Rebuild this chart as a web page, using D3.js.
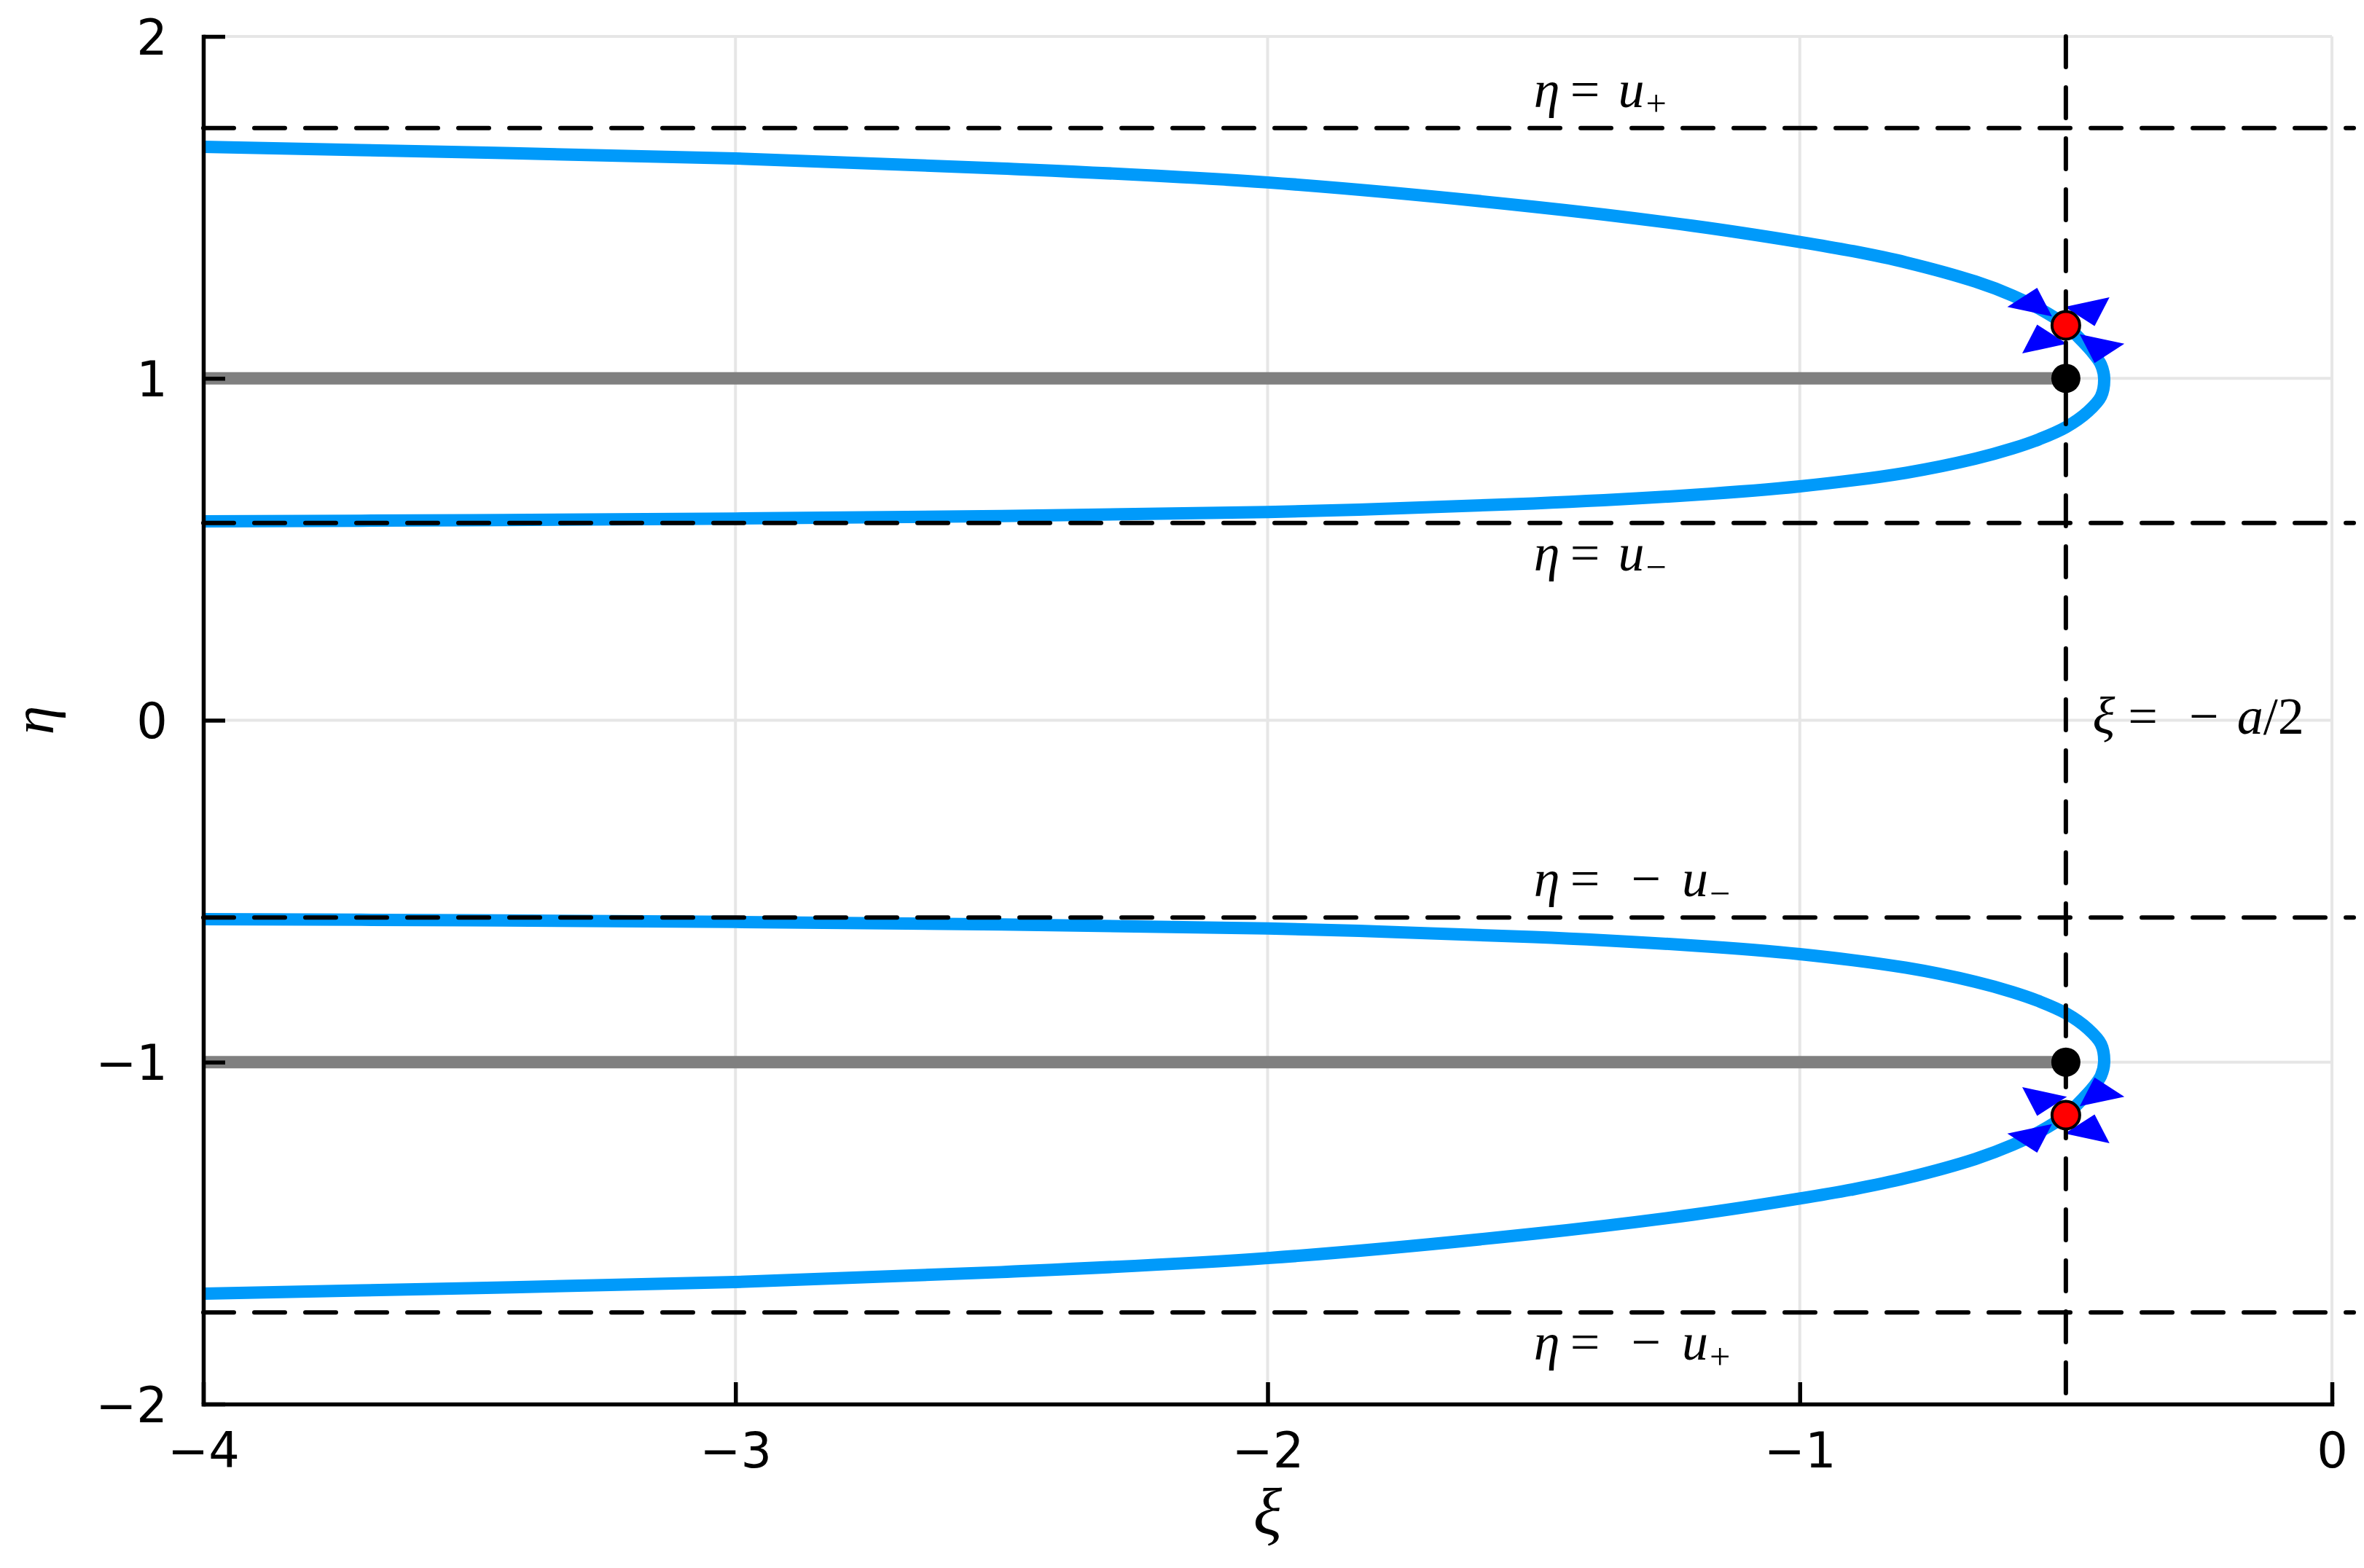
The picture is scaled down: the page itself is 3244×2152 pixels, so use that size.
<!DOCTYPE html>
<html lang="en">
<head>
<meta charset="UTF-8">
<title>Phase plane</title>
<script src="https://d3js.org/d3.v7.min.js"></script>
<style>
  body { margin: 0; background: #fff; }
  svg { display: block; }
  .axis text { font-family: "DejaVu Sans", sans-serif; font-size: 67px; fill: #000; }
  .math { font-family: "Liberation Serif", serif; fill: #000; }
</style>
</head>
<body>
<svg id="chart"></svg>
<script>
const width = 3244, height = 2152;

// upper loop: upper branch going right, round the nose, lower branch back left
const loopXi  = [-4.0, -3.5, -3.0, -2.5, -2.0, -1.5, -1.2, -1.0, -0.9, -0.8, -0.67, -0.6, -0.55, -0.5, -0.47, -0.448, -0.434, -0.428,
                 -0.434, -0.459, -0.5, -0.55, -0.6, -0.67, -0.8, -1.0, -1.2, -1.5, -2.0, -2.5, -3.0, -3.5, -4.0];
const loopEta = [1.677, 1.661, 1.643, 1.614, 1.573, 1.502, 1.446, 1.399, 1.372, 1.339, 1.283, 1.242, 1.204, 1.155, 1.11, 1.072, 1.04, 1.0,
                 0.947, 0.902, 0.857, 0.822, 0.795, 0.765, 0.724, 0.684, 0.659, 0.634, 0.609, 0.597, 0.59, 0.585, 0.582];
// lower loop (mirror image of the upper one)
const loop2Xi  = loopXi.slice();
const loop2Eta = [-1.677, -1.661, -1.643, -1.614, -1.573, -1.502, -1.446, -1.399, -1.372, -1.339, -1.283, -1.242, -1.204, -1.155, -1.11, -1.072, -1.04, -1.0,
                  -0.947, -0.902, -0.857, -0.822, -0.795, -0.765, -0.724, -0.684, -0.659, -0.634, -0.609, -0.597, -0.59, -0.585, -0.582];

// dashed reference lines
const hLineEta = [1.732, 0.577, -0.577, -1.732];
const vLineXi = [-0.5];

// grey segments eta = +-1 from the left edge to xi = -a/2
const segXiStart = [-4, -4];
const segXiEnd = [-0.5, -0.5];
const segEta = [1, -1];

// black and red points
const blackXi = [-0.5, -0.5], blackEta = [1, -1];
const redXi = [-0.5, -0.5], redEta = [1.155, -1.155];

// arrow heads round the red points: direction (in data units) and whether they point in or out
const arrowXi  = [-0.5, -0.5, -0.5, -0.5, -0.5, -0.5, -0.5, -0.5];
const arrowEta = [1.155, 1.155, 1.155, 1.155, -1.155, -1.155, -1.155, -1.155];
const arrowDx  = [-1, 1, 1, -1, 1, -1, -1, 1];
const arrowDy  = [1, -1, 1, -1, 1, -1, 1, -1];
const arrowIn  = [true, true, false, false, true, true, false, false];

// annotations: [text, kind, gap before it in em]
const noteText = [
  [["η", "i", 0], ["=", "", 0.2], ["u", "i", 0.35], ["+", "sub", 0.04]],
  [["η", "i", 0], ["=", "", 0.2], ["u", "i", 0.35], ["−", "sub", 0.04]],
  [["η", "i", 0], ["=", "", 0.2], ["−", "", 0.6], ["u", "i", 0.4], ["−", "sub", 0.04]],
  [["η", "i", 0], ["=", "", 0.2], ["−", "", 0.6], ["u", "i", 0.4], ["+", "sub", 0.04]],
  [["ξ", "i", 0], ["=", "", 0.25], ["−", "", 0.6], ["a", "i", 0.35], ["/2", "", 0]]
];
const noteXi  = [-1.5, -1.5, -1.5, -1.5, -0.45];
const noteEta = [1.832, 0.477, -0.477, -1.832, 0];

const xTicks = [-4, -3, -2, -1, 0];
const yTicks = [-2, -1, 0, 1, 2];

const x = d3.scaleLinear().domain([-4, 0]).range([279, 3200]);
const y = d3.scaleLinear().domain([-2, 2]).range([1927, 50]);

const svg = d3.select("#chart").attr("width", width).attr("height", height);

// grid
const grid = svg.append("g").attr("stroke", "#e6e6e6").attr("stroke-width", 4);
grid.selectAll(".gx").data(xTicks).enter().append("line")
  .attr("x1", d => x(d)).attr("x2", d => x(d)).attr("y1", y(-2)).attr("y2", y(2));
grid.selectAll(".gy").data(yTicks).enter().append("line")
  .attr("x1", x(-4)).attr("x2", x(0)).attr("y1", d => y(d)).attr("y2", d => y(d));

// loops
const line = d3.line().x(d => x(d[0])).y(d => y(d[1])).curve(d3.curveCatmullRom.alpha(0.5));
[[loopXi, loopEta], [loop2Xi, loop2Eta]].forEach(([xs, ys]) => {
  svg.append("path")
    .datum(d3.zip(xs, ys))
    .attr("d", line)
    .attr("fill", "none")
    .attr("stroke", "#009afa")
    .attr("stroke-width", 17);
});

// grey segments
svg.append("g").selectAll("line").data(segEta).enter().append("line")
  .attr("x1", (d, i) => x(segXiStart[i])).attr("x2", (d, i) => x(segXiEnd[i]))
  .attr("y1", d => y(d)).attr("y2", d => y(d))
  .attr("stroke", "#808080").attr("stroke-width", 17);

// arrow heads, built in data units then mapped through the scales
const headNear = 0.026, headFar = 0.082, headHalf = 0.028;
svg.append("g").selectAll("path").data(arrowXi).enter().append("path")
  .attr("d", (d, i) => {
    const cx = arrowXi[i], cy = arrowEta[i], dx = arrowDx[i], dy = arrowDy[i];
    const tipD = arrowIn[i] ? headNear : headFar;
    const baseD = arrowIn[i] ? headFar : headNear;
    const tip = [cx + dx * tipD, cy + dy * tipD];
    const bm = [cx + dx * baseD, cy + dy * baseD];
    const p1 = [bm[0] - dy * headHalf, bm[1] + dx * headHalf];
    const p2 = [bm[0] + dy * headHalf, bm[1] - dx * headHalf];
    return "M" + [tip, p1, p2].map(p => x(p[0]) + "," + y(p[1])).join("L") + "Z";
  })
  .attr("fill", "#0000ff");

// dashed lines
const dashes = svg.append("g").attr("stroke", "#000").attr("stroke-width", 6)
  .attr("stroke-dasharray", "42 28").attr("stroke-linecap", "round");
dashes.selectAll(".h").data(hLineEta).enter().append("line")
  .attr("x1", x(-4)).attr("x2", width - 14).attr("y1", d => y(d)).attr("y2", d => y(d));
dashes.selectAll(".v").data(vLineXi).enter().append("line")
  .attr("x1", d => x(d)).attr("x2", d => x(d)).attr("y1", y(2)).attr("y2", y(-2));

// points
svg.append("g").selectAll("circle").data(blackXi).enter().append("circle")
  .attr("cx", d => x(d)).attr("cy", (d, i) => y(blackEta[i])).attr("r", 20)
  .attr("fill", "#000");
svg.append("g").selectAll("circle").data(redXi).enter().append("circle")
  .attr("cx", d => x(d)).attr("cy", (d, i) => y(redEta[i])).attr("r", 19)
  .attr("fill", "#ff0000").attr("stroke", "#000").attr("stroke-width", 4);

// axes
const xAxis = svg.append("g").attr("class", "axis").attr("transform", `translate(0,${y(-2)})`)
  .call(d3.axisBottom(x).tickValues(xTicks).tickFormat(d3.format("d")).tickSizeInner(-30).tickSizeOuter(0).tickPadding(39));
const yAxis = svg.append("g").attr("class", "axis").attr("transform", `translate(${x(-4)},0)`)
  .call(d3.axisLeft(y).tickValues(yTicks).tickFormat(d3.format("d")).tickSizeInner(-30).tickSizeOuter(0).tickPadding(49));
[xAxis, yAxis].forEach(a => {
  a.selectAll("path, line").attr("stroke", "#000").attr("stroke-width", 5.5);
  a.select(".domain").attr("stroke-linecap", "square");
  a.selectAll("text").attr("font-family", null).attr("font-size", null);
});
yAxis.selectAll("text").attr("dy", "0.36em");

// annotations
const noteSize = 72;
noteText.forEach((parts, i) => {
  const t = svg.append("text").attr("class", "math").attr("font-size", noteSize)
    .attr("x", x(noteXi[i])).attr("y", y(noteEta[i]) + 0.25 * noteSize);
  parts.forEach(([s, kind, gap]) => {
    const ts = t.append("tspan").text(s).attr("dx", gap + "em");
    if (kind === "i") ts.attr("font-style", "italic");
    if (kind === "sub") ts.attr("font-size", "0.7em").attr("dy", "0.25em");
  });
});

// axis titles
svg.append("text").attr("class", "math").attr("font-size", 92).attr("font-style", "italic")
  .attr("text-anchor", "middle").attr("x", (x(-4) + x(0)) / 2).attr("y", 2106).text("ξ");
svg.append("text").attr("class", "math").attr("font-size", 80).attr("font-style", "italic")
  .attr("text-anchor", "middle").attr("transform", `translate(73,${(y(-2) + y(2)) / 2}) rotate(-90)`).text("η");
</script>
</body>
</html>
